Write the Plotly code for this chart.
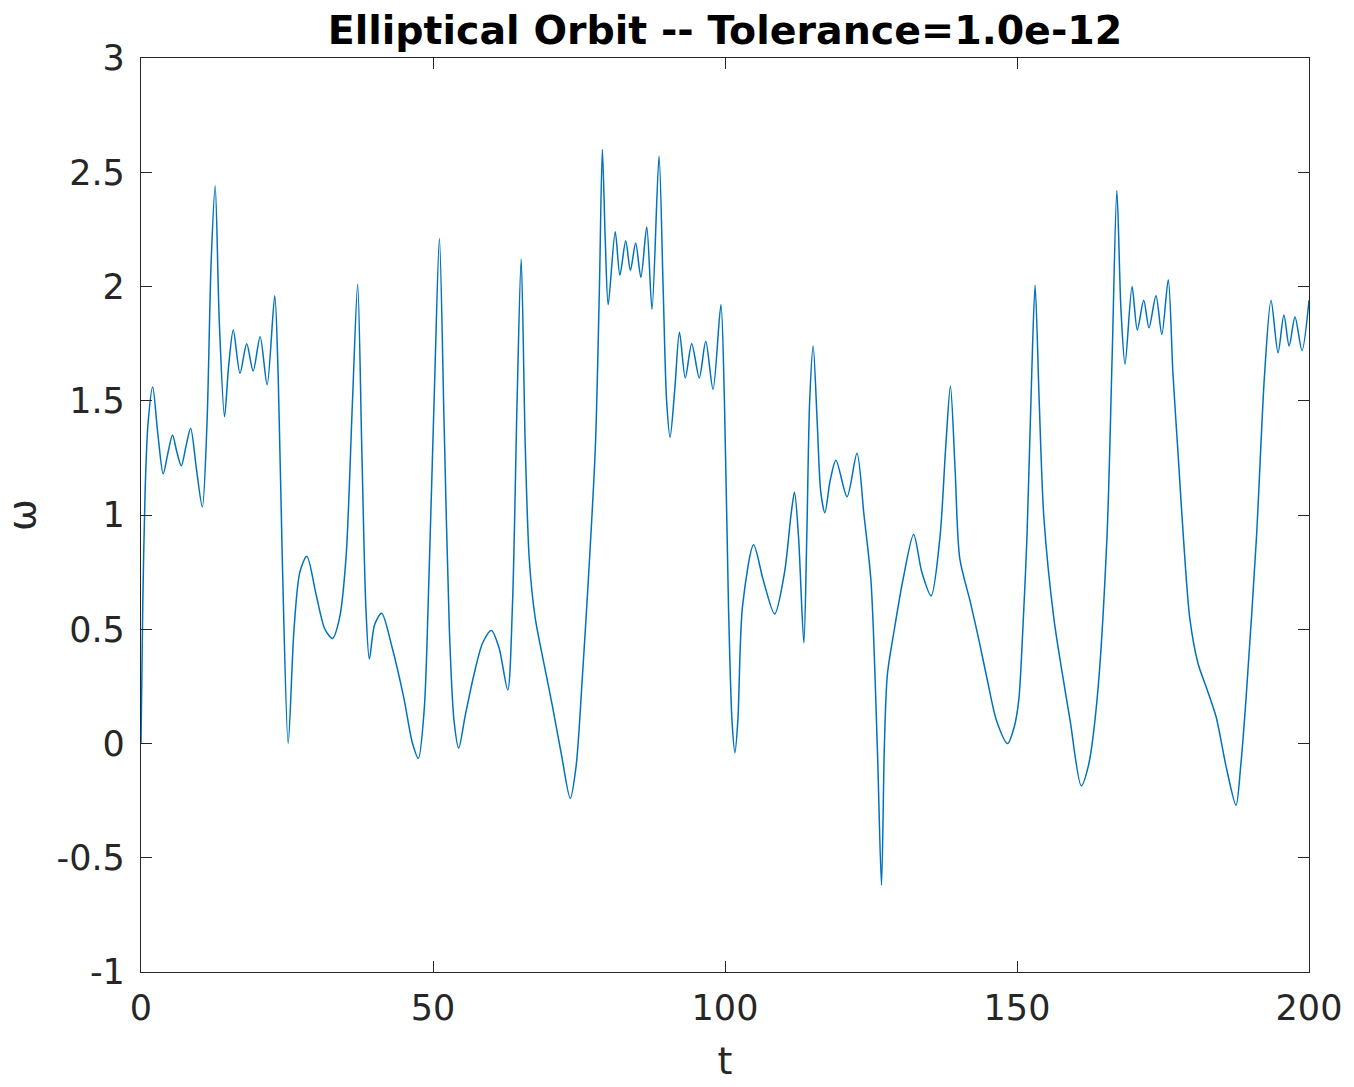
import plotly.graph_objects as go

t_vals = [0, 0.3, 0.7, 1.2, 2.0, 2.9, 3.8, 4.6, 5.4, 6.1, 6.9, 7.7, 8.5, 9.5, 10.5,
          11.3, 12.0, 12.7, 13.4, 14.3, 15.0, 15.8, 16.95, 18.1, 19.2, 20.4, 21.6, 22.9,
          23.5, 24.2, 25.2, 26.2, 27.2, 28.4, 30.0, 31.5, 32.8, 34.0, 35.1, 36.2, 37.1,
          37.8, 38.5, 39.1, 40.0, 41.2, 43.0, 45.0, 46.5, 47.5, 48.5, 49.3, 50.3, 51.1,
          51.9, 52.8, 53.6, 54.4, 55.5, 57.0, 58.5, 60.0, 61.3, 62.8, 63.6, 64.4, 65.1,
          65.8, 66.5, 67.5, 69.0, 70.4, 72.0, 73.5, 74.5, 75.6, 76.6, 77.8, 78.5, 79.0,
          79.5, 80.0, 81.2, 82.0, 83.0, 83.8, 84.7, 85.6, 86.6, 87.5, 88.7, 89.4, 90.0,
          90.6, 91.4, 92.2, 93.2, 94.3, 95.6, 96.7, 97.95, 99.3, 99.9, 100.6, 101.2, 101.7,
          102.2, 103.0, 104.9, 106.5, 108.5, 110.2, 111.3, 111.9, 112.6, 113.5, 114.0,
          114.5, 115.1, 115.8, 116.4, 117.1, 118.0, 119.0, 120.9, 122.6, 123.8, 125.0,
          126.1, 126.8, 127.3, 127.8, 129.0, 130.5, 132.3, 133.7, 135.3, 136.8, 137.8,
          138.6, 139.4, 140.2, 142.0, 143.5, 144.9, 146.5, 148.4, 149.5, 150.3, 151.0,
          151.7, 152.5, 153.1, 153.8, 154.6, 156.3, 157.8, 159.1, 161.0, 162.2, 163.7,
          165.4, 166.3, 167.1, 167.8, 168.5, 169.7, 170.6, 171.7, 172.6, 173.8, 174.8,
          175.9, 176.7, 177.6, 178.5, 179.6, 181.0, 182.5, 184.1, 185.8, 187.5, 188.3,
          189.2, 191.0, 192.4, 193.5, 194.7, 195.7, 196.6, 197.6, 198.8, 200.0]

omega_vals = [0.0, 0.6, 1.1, 1.4, 1.56, 1.35, 1.18, 1.27, 1.35, 1.28, 1.215, 1.30, 1.38, 1.2, 1.035,
              1.4, 2.1, 2.44, 1.85, 1.43, 1.65, 1.81, 1.62, 1.75, 1.63, 1.78, 1.57, 1.96,
              1.6, 0.8, 0.0, 0.5, 0.75, 0.82, 0.65, 0.5, 0.46, 0.55, 0.81, 1.49, 2.01,
              1.3, 0.6, 0.37, 0.52, 0.57, 0.42, 0.2, 0.0, -0.065, 0.15, 0.72, 1.6, 2.21,
              1.4, 0.5, 0.1, -0.02, 0.12, 0.3, 0.44, 0.495, 0.42, 0.234, 0.6, 1.5, 2.12,
              1.3, 0.8, 0.55, 0.35, 0.17, -0.05, -0.24, -0.1, 0.3, 0.716, 1.295, 2.0, 2.60,
              2.2, 1.92, 2.24, 2.05, 2.20, 2.07, 2.19, 2.04, 2.26, 1.90, 2.57, 2.0, 1.5,
              1.34, 1.55, 1.80, 1.60, 1.75, 1.60, 1.76, 1.55, 1.92, 1.5, 0.6, 0.1, -0.04,
              0.1, 0.6, 0.87, 0.72, 0.567, 0.75, 1.0, 1.10, 0.9, 0.44, 0.9,
              1.5, 1.74, 1.4, 1.1, 1.01, 1.15, 1.24, 1.08, 1.27, 1.0, 0.71,
              -0.03, -0.62, 0.0, 0.30, 0.50, 0.72, 0.915, 0.75, 0.646, 0.9, 1.3,
              1.565, 1.2, 0.81, 0.62, 0.45, 0.28, 0.1, 0.0, 0.07, 0.19, 0.5,
              0.90, 1.6, 2.006, 1.5, 0.99, 0.55, 0.3, 0.10, -0.185, -0.1, 0.19,
              0.90, 1.7, 2.42, 1.9, 1.66, 2.0, 1.81, 1.94, 1.82, 1.96, 1.79,
              2.03, 1.62, 1.26, 0.90, 0.545, 0.35, 0.24, 0.116, -0.1, -0.27, -0.1,
              0.19, 0.90, 1.62, 1.94, 1.71, 1.875, 1.74, 1.866, 1.72, 1.94]

x_ticks = [0, 50, 100, 150, 200]
x_tick_labels = ["0", "50", "100", "150", "200"]
y_ticks = [-1, -0.5, 0, 0.5, 1, 1.5, 2, 2.5, 3]
y_tick_labels = ["-1", "-0.5", "0", "0.5", "1", "1.5", "2", "2.5", "3"]

title_text = "Elliptical Orbit -- Tolerance=1.0e-12"
x_label = "t"
y_label = "ω"

axis_color = "#262626"
font_family = "DejaVu Sans"

fig_w, fig_h = 1354, 1087

fig = go.Figure()
fig.add_trace(go.Scatter(
    x=t_vals, y=omega_vals, mode="lines",
    line=dict(color="#0072BD", width=1.5, shape="spline", smoothing=0.8),
    showlegend=False,
))

axis_common = dict(
    showline=True, linecolor=axis_color, linewidth=1.3, mirror="ticks",
    ticks="inside", ticklen=11, tickwidth=1.3, tickcolor=axis_color,
    showgrid=False, zeroline=False,
    tickfont=dict(family=font_family, size=35, color=axis_color),
)

fig.update_layout(
    width=fig_w, height=fig_h,
    margin=dict(l=141, r=41, t=58, b=104),
    paper_bgcolor="white", plot_bgcolor="white",
    title=dict(text="<b>" + title_text + "</b>", x=0.5, xref="paper", xanchor="center",
               y=1 - 30 / fig_h, yref="container", yanchor="middle",
               font=dict(family=font_family, size=39.5, color="black")),
    xaxis=dict(range=[0, 200], tickvals=x_ticks, ticktext=x_tick_labels, ticklabelstandoff=5,
               title=dict(text=x_label, font=dict(family=font_family, size=38, color=axis_color), standoff=20),
               **axis_common),
    yaxis=dict(range=[-1, 3], tickvals=y_ticks, ticktext=y_tick_labels, ticklabelstandoff=8,
               title=dict(text=y_label, font=dict(family=font_family, size=38, color=axis_color), standoff=12),
               **axis_common),
)

# remove the browser's default 8 px body margin so the figure fills the window exactly
fig.write_html("out.html", config={"displayModeBar": False},
               post_script="document.body.style.margin='0';document.body.style.overflow='hidden';")
